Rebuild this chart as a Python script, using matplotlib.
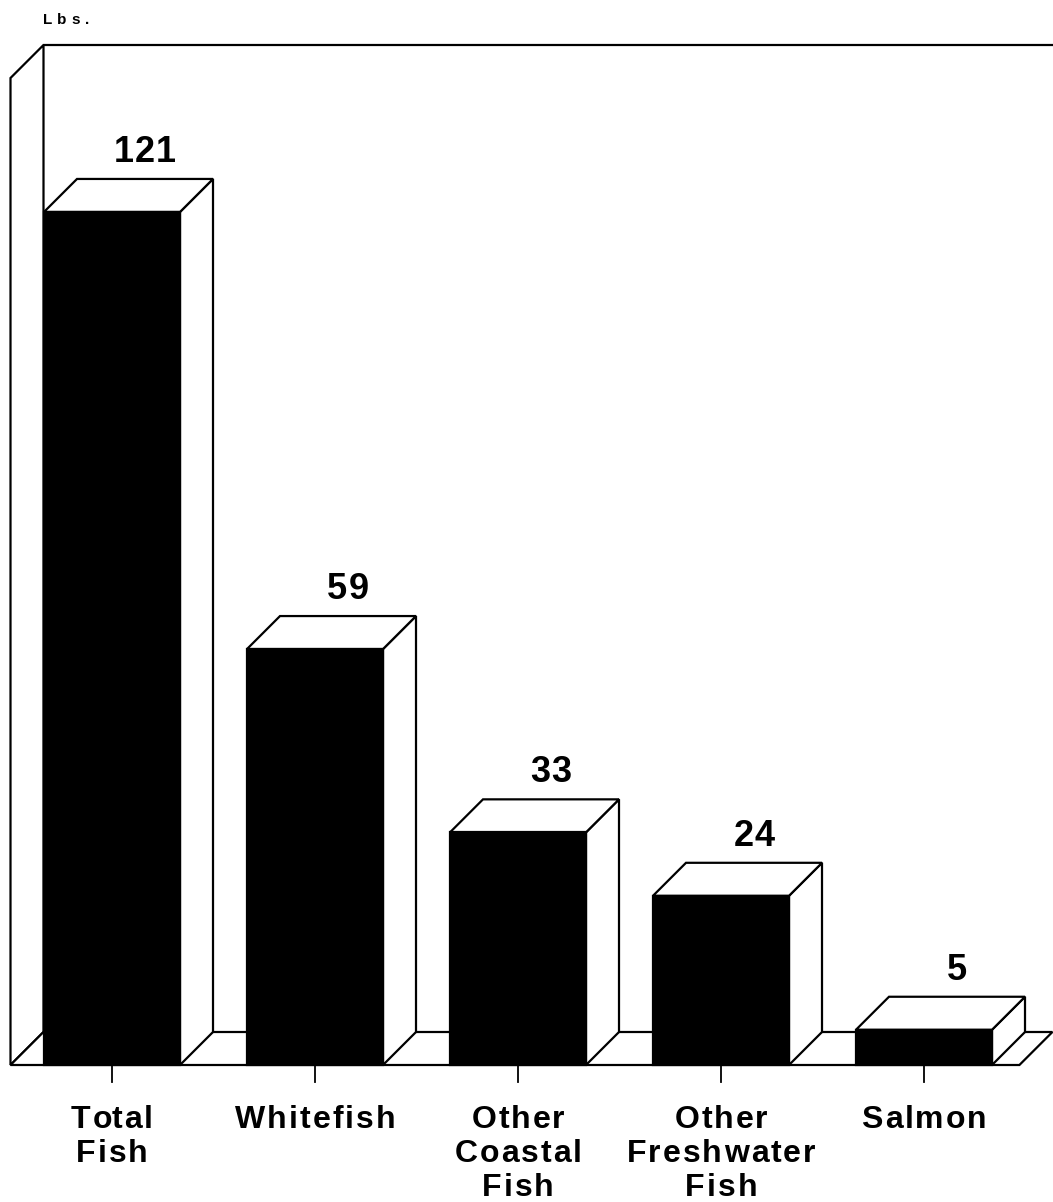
import matplotlib
matplotlib.use("Agg")
import matplotlib.pyplot as plt
from matplotlib.patches import Polygon, Rectangle
from matplotlib.font_manager import FontProperties

categories = ["Total\nFish", "Whitefish", "Other\nCoastal\nFish", "Other\nFreshwater\nFish", "Salmon"]
values = [121, 59, 33, 24, 5]
y_unit = "Lbs."

plt.rcParams['font.family'] = ['Liberation Sans', 'DejaVu Sans']
plt.rcParams['font.weight'] = 'bold'

W, H = 1053, 1202
fig = plt.figure(figsize=(W / 100, H / 100), dpi=100)
ax = fig.add_axes([0, 0, 1, 1])
ax.set_axis_off()
renderer = fig.canvas.get_renderer()


def spaced_text(x, y, s, size, track, dy_px=0, ha='center', coords=None):
    # draws a line of text with extra letter spacing (in pixels)
    prop = FontProperties(family='Liberation Sans', weight='bold', size=size)
    total = renderer.get_text_width_height_descent(s, prop, ismath=False)[0] + track * (len(s) - 1)
    start = -total / 2 if ha == 'center' else 0
    for k, ch in enumerate(s):
        pre = renderer.get_text_width_height_descent(s[:k], prop, ismath=False)[0] if k else 0
        ax.annotate(ch, (x, y), xycoords=coords or 'data',
                    xytext=(start + pre + k * track, dy_px), textcoords='offset pixels',
                    ha='left', va='baseline', fontproperties=prop, annotation_clip=False)


# layout of the "3d" frame, in pixels of the reference
step_px = 203.0           # distance between bar centers
first_px = 112.0          # x of first bar center
base_px = 137.0           # baseline height from bottom of figure
ymax = 140
scale = 987.0 / ymax      # px per unit
ax.set_xlim(-first_px / step_px, (W - first_px) / step_px)
ax.set_ylim(-base_px / scale, (H - base_px) / scale)

dx = 33 / step_px         # depth offset
dy = 33 / scale
w = 0.67
lw = 1.6
x0 = -0.5

# left wall
ax.add_patch(Polygon([(x0, 0), (x0 + dx, dy), (x0 + dx, ymax + dy), (x0, ymax)],
                     closed=True, fc='white', ec='black', lw=lw, joinstyle='miter'))
# top edge of back wall
ax.plot([x0 + dx, 10], [ymax + dy, ymax + dy], color='black', lw=lw, clip_on=True)

# floor
x_end = len(values) - 0.53
ax.add_patch(Polygon([(x0, 0), (x0 + dx, dy), (x_end + dx, dy), (x_end, 0)],
                     closed=True, fc='white', ec='black', lw=lw, joinstyle='miter'))

for i, v in enumerate(values):
    left = i - w / 2
    right = i + w / 2
    side = Polygon([(right, 0), (right + dx, dy), (right + dx, v + dy), (right, v)],
                   closed=True, fc='white', ec='black', lw=lw, joinstyle='miter')
    top = Polygon([(left, v), (left + dx, v + dy), (right + dx, v + dy), (right, v)],
                  closed=True, fc='white', ec='black', lw=lw, joinstyle='miter')
    front = Rectangle((left, 0), w, v, fc='black', ec='black', lw=lw)
    ax.add_patch(side)
    ax.add_patch(top)
    ax.add_patch(front)
    spaced_text(i + dx, v + dy, str(v), 26, 1, dy_px=17)
    # tick
    ax.plot([i, i], [0, -17 / scale], color='black', lw=1.3)
    for j, line in enumerate(categories[i].split("\n")):
        spaced_text(i, 0, line, 23, 2, dy_px=-63 - 34 * j)

spaced_text(43 / W, 1 - 24 / H, y_unit, 11, 5, ha='left', coords='figure fraction')

fig.savefig("out.png", dpi=100)
